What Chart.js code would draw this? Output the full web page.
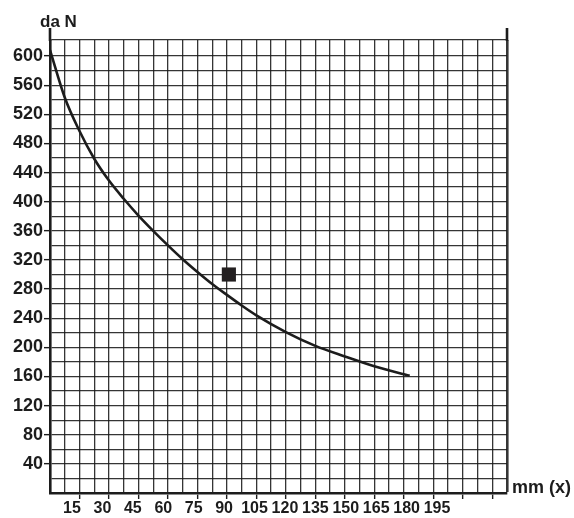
<!DOCTYPE html>
<html>
<head>
<meta charset="utf-8">
<script src="https://cdn.jsdelivr.net/npm/chart.js@4/dist/chart.umd.min.js"></script>
<style>
  html, body { margin: 0; padding: 0; background: #ffffff; }
  #wrap { width: 574px; height: 518px; position: relative; }
</style>
</head>
<body>
<div id="wrap"><canvas id="chart"></canvas></div>
<script>
// Force curve: stroke x (mm) against force (daN)
const strokeMm = [0, 7.5, 15, 22.5, 30, 37.5, 45, 52.5, 60, 67.5, 75, 82.5, 90, 97.5, 105, 120, 135, 150, 165, 183];
const forceDaN = [608, 543, 497, 459, 429, 404, 381, 360, 340, 321, 303.5, 287, 272, 257.5, 244, 221, 202, 187.5, 174, 161];

// Single marked operating point
const markerMm = [91];
const markerDaN = [300];

// Axis numbering
const xTickLabels = [15, 30, 45, 60, 75, 90, 105, 120, 135, 150, 165, 180, 195];
const yTickLabels = [40, 80, 120, 160, 200, 240, 280, 320, 360, 400, 440, 480, 520, 560, 600];

// Grid pitch and extent
const xStep = 7.5, xMax = 232.5;
const yStep = 20, yTopLine = 600, yMax = 622;

const INK = '#1c1c1c';
const GRID = 'rgba(25,25,25,0.88)';
const FONT = '"Liberation Sans", Arial, Helvetica, sans-serif';

const xGridValues = [];
for (let v = 0; v <= xMax + 1e-9; v += xStep) xGridValues.push(+v.toFixed(2));
const yGridValues = [];
for (let v = 0; v <= yTopLine; v += yStep) yGridValues.push(v);
yGridValues.push(yMax);

const curvePoints = strokeMm.map((x, i) => ({ x, y: forceDaN[i] }));
const markerPoints = markerMm.map((x, i) => ({ x, y: markerDaN[i] }));

// Extra strokes and the unit captions around the grid
const frameDecor = {
  id: 'frameDecor',
  afterDraw(chart) {
    const { ctx, chartArea: a } = chart;
    ctx.save();
    ctx.strokeStyle = INK;
    ctx.lineWidth = 2.6;
    ctx.beginPath();
    ctx.moveTo(a.left, a.top - 12);
    ctx.lineTo(a.left, a.top + 1);
    ctx.moveTo(a.right, a.top - 12);
    ctx.lineTo(a.right, a.top + 1);
    ctx.stroke();

    ctx.fillStyle = INK;
    ctx.textBaseline = 'alphabetic';
    ctx.textAlign = 'left';
    ctx.font = 'bold 17px ' + FONT;
    ctx.fillText('da N', a.left - 10, a.top - 13);
    ctx.font = 'bold 18px ' + FONT;
    ctx.fillText('mm (x)', a.right + 5, a.bottom);
    ctx.restore();
  }
};

new Chart(document.getElementById('chart'), {
  type: 'line',
  data: {
    datasets: [
      {
        data: curvePoints,
        borderColor: INK,
        borderWidth: 2.6,
        pointRadius: 0,
        fill: false,
        cubicInterpolationMode: 'monotone',
        order: 2
      },
      {
        data: markerPoints,
        showLine: false,
        pointStyle: 'rect',
        pointRadius: 10,
        pointBorderWidth: 0,
        pointBackgroundColor: '#231f20',
        order: 1
      }
    ]
  },
  options: {
    responsive: true,
    maintainAspectRatio: false,
    animation: false,
    events: [],
    layout: { padding: { top: 40, right: 67, left: 0, bottom: 0 } },
    plugins: { legend: { display: false }, tooltip: { enabled: false } },
    scales: {
      x: {
        type: 'linear',
        position: 'bottom',
        min: 0,
        max: xMax,
        afterBuildTicks: s => { s.ticks = xGridValues.map(value => ({ value })); },
        afterFit: s => { s.height = 6; },
        ticks: { display: false },
        grid: {
          color: GRID,
          lineWidth: c => (c.index === xGridValues.length - 1 ? 2.6 : 1.3),
          drawTicks: true,
          tickLength: 6,
          tickWidth: 1.4,
          tickColor: c => {
            const v = c.tick ? c.tick.value : 0;
            return v > 0 && Math.abs(v / 15 - Math.round(v / 15)) < 1e-6 ? INK : 'rgba(0,0,0,0)';
          }
        },
        border: { display: true, color: INK, width: 2.6 }
      },
      xNum: {
        type: 'linear',
        position: 'bottom',
        // numbering runs a little wider than the grid pitch
        min: 4.14,
        max: 229.5,
        afterBuildTicks: s => { s.ticks = xTickLabels.map(value => ({ value })); },
        afterFit: s => { s.height = 19; },
        ticks: {
          color: INK,
          font: { family: FONT, size: 16, weight: 'bold' },
          padding: 0,
          maxRotation: 0,
          autoSkip: false,
          callback: v => String(v)
        },
        grid: { display: false, drawTicks: false },
        border: { display: false }
      },
      y: {
        type: 'linear',
        position: 'left',
        min: 0,
        max: yMax,
        afterBuildTicks: s => { s.ticks = yGridValues.map(value => ({ value })); },
        afterFit: s => { s.width = 50; },
        ticks: {
          color: INK,
          font: { family: FONT, size: 18, weight: 'bold' },
          padding: 1,
          autoSkip: false,
          callback: v => (yTickLabels.includes(v) ? String(v) : '')
        },
        grid: {
          color: GRID,
          lineWidth: 1.3,
          drawTicks: true,
          tickLength: 6,
          tickWidth: 1.4,
          tickColor: c => (c.tick && yTickLabels.includes(c.tick.value) ? INK : 'rgba(0,0,0,0)')
        },
        border: { display: true, color: INK, width: 2.6 }
      }
    }
  },
  plugins: [frameDecor]
});
</script>
</body>
</html>
